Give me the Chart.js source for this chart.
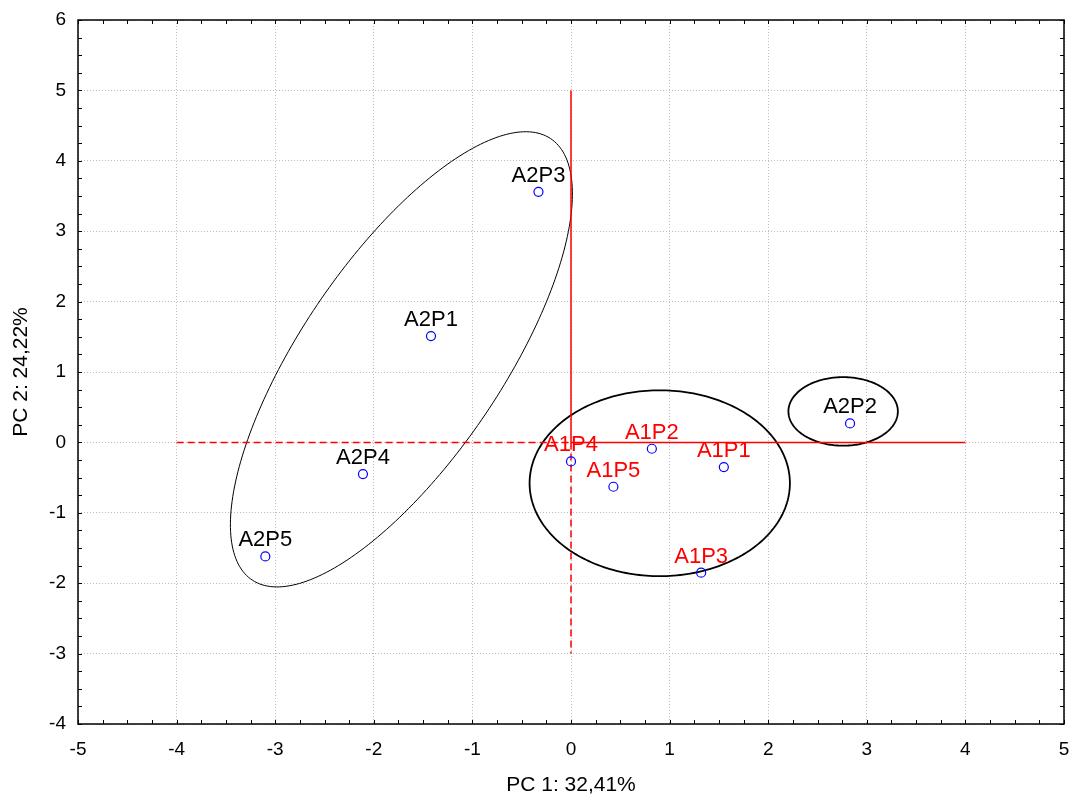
<!DOCTYPE html>
<html>
<head>
<meta charset="utf-8">
<script src="https://cdn.jsdelivr.net/npm/chart.js@4.4.1/dist/chart.umd.min.js"></script>
<style>
  body { margin: 0; background: #fff; }
  #wrap { width: 1072px; height: 798px; }
</style>
</head>
<body>
<div id="wrap"><canvas id="pcaChart" width="1072" height="798"></canvas></div>
<script>
// scores
const sampleLabels = ['A2P3', 'A2P1', 'A2P4', 'A2P5', 'A2P2', 'A1P4', 'A1P2', 'A1P1', 'A1P5', 'A1P3'];
const pc1 = [-0.33, -1.42, -2.11, -3.10, 2.83, 0.00, 0.82, 1.55, 0.43, 1.32];
const pc2 = [3.56, 1.51, -0.45, -1.62, 0.27, -0.27, -0.09, -0.35, -0.63, -1.85];
const sampleGroup = ['A2', 'A2', 'A2', 'A2', 'A2', 'A1', 'A1', 'A1', 'A1', 'A1'];

// reference axes through the origin
const refSolidX = [[0, 0], [0, 4]];
const refSolidY = [[0, 5], [0, 0]];
const refDashX = [[0, 0], [-4, 0]];
const refDashY = [[0, -3], [0, 0]];

// group ellipses in data units: centre, semi axes, rotation (deg)
const ellipseCx = [-1.72, 0.90, 2.76];
const ellipseCy = [1.18, -0.58, 0.44];
const ellipseA = [3.50, 1.32, 0.555];
const ellipseB = [1.10, 1.32, 0.487];
const ellipseRot = [66.2, 0, 0];

const xTicks = [-5, -4, -3, -2, -1, 0, 1, 2, 3, 4, 5];
const yTicks = [-4, -3, -2, -1, 0, 1, 2, 3, 4, 5, 6];

const FONT = "'Liberation Sans', Arial, sans-serif";

function segs(xs, ys) {
  return xs.map((sx, i) => [{ x: sx[0], y: ys[i][0] }, { x: sx[1], y: ys[i][1] }]);
}

const refDatasets = [];
segs(refSolidX, refSolidY).forEach(d => refDatasets.push({
  data: d, showLine: true, borderColor: '#ff0000', borderWidth: 1.5,
  pointRadius: 0, fill: false
}));
segs(refDashX, refDashY).forEach(d => refDatasets.push({
  data: d, showLine: true, borderColor: '#ff0000', borderWidth: 1.5,
  borderDash: [7, 4], pointRadius: 0, fill: false
}));

const ellipsePlugin = {
  id: 'ellipses',
  beforeDatasetsDraw(chart) {
    const { ctx, scales: { x, y } } = chart;
    ctx.save();
    ctx.strokeStyle = '#000';
    ellipseCx.forEach((cx, i) => {
      const r = ellipseRot[i] * Math.PI / 180;
      ctx.lineWidth = i === 0 ? 1 : 1.8;
      ctx.beginPath();
      for (let k = 0; k <= 240; k++) {
        const t = k / 240 * Math.PI * 2;
        const ex = ellipseA[i] * Math.cos(t), ey = ellipseB[i] * Math.sin(t);
        const dx = cx + ex * Math.cos(r) - ey * Math.sin(r);
        const dy = ellipseCy[i] + ex * Math.sin(r) + ey * Math.cos(r);
        const px = x.getPixelForValue(dx), py = y.getPixelForValue(dy);
        if (k === 0) ctx.moveTo(px, py); else ctx.lineTo(px, py);
      }
      ctx.closePath();
      ctx.stroke();
    });
    ctx.restore();
  }
};

const framePlugin = {
  id: 'frame',
  afterDraw(chart) {
    const { ctx, chartArea: a, scales: { x, y } } = chart;
    ctx.save();
    ctx.strokeStyle = '#000';
    ctx.lineWidth = 1.5;
    ctx.strokeRect(a.left, a.top, a.right - a.left, a.bottom - a.top);
    ctx.lineWidth = 1;
    ctx.beginPath();
    for (let v = -5; v <= 5.001; v += 0.25) {
      const px = Math.round(x.getPixelForValue(v)) + 0.5;
      ctx.moveTo(px, a.bottom); ctx.lineTo(px, a.bottom - 4);
      ctx.moveTo(px, a.top); ctx.lineTo(px, a.top + 4);
    }
    for (let v = -4; v <= 6.001; v += 0.25) {
      const py = Math.round(y.getPixelForValue(v)) + 0.5;
      ctx.moveTo(a.left, py); ctx.lineTo(a.left + 4, py);
      ctx.moveTo(a.right, py); ctx.lineTo(a.right - 4, py);
    }
    ctx.stroke();
    ctx.restore();
  }
};

const labelPlugin = {
  id: 'pointLabels',
  afterDatasetsDraw(chart) {
    const { ctx } = chart;
    const meta = chart.getDatasetMeta(0);
    ctx.save();
    ctx.font = '22px ' + FONT;
    ctx.textAlign = 'center';
    ctx.textBaseline = 'alphabetic';
    meta.data.forEach((pt, i) => {
      ctx.fillStyle = sampleGroup[i] === 'A1' ? '#ff0000' : '#000000';
      ctx.fillText(sampleLabels[i], pt.x, pt.y - 10);
    });
    ctx.restore();
  }
};

new Chart(document.getElementById('pcaChart'), {
  type: 'scatter',
  data: {
    datasets: [{
      label: 'Samples',
      data: pc1.map((v, i) => ({ x: v, y: pc2[i] })),
      pointStyle: 'circle',
      pointRadius: 4.5,
      pointBorderWidth: 1.2,
      pointBackgroundColor: 'rgba(0,0,0,0)',
      pointBorderColor: '#0000ff'
    }].concat(refDatasets)
  },
  options: {
    responsive: false,
    animation: false,
    layout: { padding: { top: 20, right: 8, left: 0, bottom: 0 } },
    plugins: { legend: { display: false }, tooltip: { enabled: false } },
    scales: {
      x: {
        type: 'linear', min: -5, max: 5,
        afterBuildTicks: s => { s.ticks = xTicks.map(v => ({ value: v })); },
        afterFit: s => { s.height = 74; s.paddingLeft = 0; s.paddingRight = 0; },
        grid: { color: '#bdbdbd', lineWidth: 1, drawTicks: false },
        border: { display: false, dash: [1, 2] },
        ticks: { color: '#000', font: { size: 19, family: FONT }, padding: 14, maxRotation: 0 },
        title: { display: true, text: 'PC 1: 32,41%', color: '#000',
                 font: { size: 21, family: FONT }, padding: { top: 0, bottom: 0 } }
      },
      y: {
        type: 'linear', min: -4, max: 6,
        afterBuildTicks: s => { s.ticks = yTicks.map(v => ({ value: v })); },
        afterFit: s => { s.width = 78; s.paddingTop = 0; s.paddingBottom = 0; },
        grid: { color: '#bdbdbd', lineWidth: 1, drawTicks: false },
        border: { display: false, dash: [1, 2] },
        ticks: { color: '#000', font: { size: 19, family: FONT }, padding: 12 },
        title: { display: true, text: 'PC 2: 24,22%', color: '#000',
                 font: { size: 21, family: FONT }, padding: { top: 9, bottom: 0 } }
      }
    }
  },
  plugins: [ellipsePlugin, labelPlugin, framePlugin]
});
</script>
</body>
</html>
